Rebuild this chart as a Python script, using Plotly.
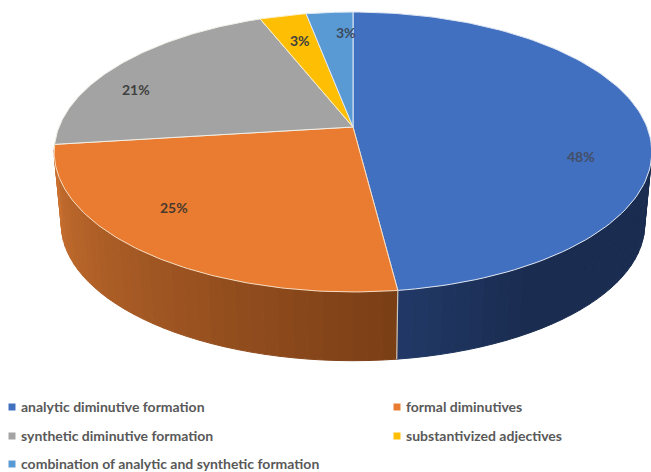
import numpy as np
import plotly.graph_objects as go

# Slice data, clockwise from twelve o'clock
categories = [
    "analytic diminutive formation",
    "formal diminutives",
    "synthetic diminutive formation",
    "substantivized adjectives",
    "combination of analytic and synthetic formation",
]
values = [48, 25, 21, 3, 3]
colors = ["#4270c0", "#e97c30", "#a3a3a3", "#fdbe03", "#5a9ad4"]
rim_lines = ["#dfe6f2", "#f7dcc0", "#f2efe8", "#fdf0c8", "#dce8f5"]
label_colors = ["#434e66", "#4a3a2e", "#404040", "#404040", "#3c4a5c"]

# Side-wall shading per visible slice: (angle where the ramp begins, first rgb, last rgb)
wall_shades = {
    0: (150.0, (26, 44, 80), (33, 57, 103)),
    1: (172.8, (122, 62, 22), (203, 113, 48)),
}

# Perspective of the disc
CX, TOP_Y, BASE_Y = 353, 127, 200
TOP_RX, TOP_RY = 294, 135.5
BASE_RX, BASE_RY = 287, 132
PERSP = 0.1786
WALL_FROM, WALL_TO = 100.0, 262.8


def project(deg, cy, rx, ry):
    t = np.radians(deg)
    sx, sy = np.sin(t), np.cos(t)
    w = 1 + PERSP * sy
    return CX + rx * sx / w, cy - ry * sy / w


def top_point(deg):
    return project(deg, TOP_Y, TOP_RX, TOP_RY)


def base_point(deg):
    return project(deg, BASE_Y, BASE_RX, BASE_RY)


edges = np.concatenate([[0], np.cumsum(values) / np.sum(values) * 360])
fig = go.Figure()

# Side wall: narrow strips with a shade that follows the angle
for i, (ramp_from, first, last) in wall_shades.items():
    a0 = max(edges[i], WALL_FROM)
    a1 = min(edges[i + 1], WALL_TO)
    cuts = np.linspace(a0, a1, int((a1 - a0) / 2.5) + 2)
    for d0, d1 in zip(cuts[:-1], cuts[1:]):
        f = max(0.0, ((d0 + d1) / 2 - ramp_from) / (edges[i + 1] - ramp_from))
        rgb = [round(p + (q - p) * f) for p, q in zip(first, last)]
        arc = np.linspace(d0, d1, 4)
        tx, ty = top_point(arc)
        bx, by = base_point(arc)
        color = "rgb({},{},{})".format(*rgb)
        fig.add_trace(go.Scatter(
            x=np.concatenate([tx, bx[::-1], tx[:1]]),
            y=np.concatenate([ty, by[::-1], ty[:1]]),
            mode="lines", fill="toself", fillcolor=color,
            line=dict(color=color, width=1), hoverinfo="skip", showlegend=False,
        ))

# Seam between the two visible wall colours
sx0, sy0 = top_point(edges[1])
sx1, sy1 = base_point(edges[1])
fig.add_trace(go.Scatter(
    x=[sx0, sx1], y=[sy0, sy1], mode="lines",
    line=dict(color="#c9c3ba", width=1.2), hoverinfo="skip", showlegend=False,
))

# Top face
for i, name in enumerate(categories):
    arc = np.linspace(edges[i], edges[i + 1], 120)
    px, py = top_point(arc)
    fig.add_trace(go.Scatter(
        x=np.concatenate([[CX], px, [CX]]),
        y=np.concatenate([[TOP_Y], py, [TOP_Y]]),
        mode="lines", fill="toself", fillcolor=colors[i],
        line=dict(color=rim_lines[i], width=1), name=name,
        hoverinfo="name", showlegend=False,
    ))

# Percentage labels
label_spots = [(581, 156), (174, 207), (136, 89), (300, 40), (346, 32)]
for v, tint, (lx, ly) in zip(values, label_colors, label_spots):
    fig.add_annotation(
        x=lx, y=ly, text=f"<b>{v}%</b>", showarrow=False,
        font=dict(family="Lato", size=14, color=tint),
    )

# Two-column key below the disc
key_spots = [(12, 407), (397, 407), (12, 436), (397, 436), (12, 464)]
for name, color, (kx, ky) in zip(categories, colors, key_spots):
    fig.add_trace(go.Scatter(
        x=[kx], y=[ky], mode="markers",
        marker=dict(symbol="square", size=7, color=color, line=dict(width=0)),
        hoverinfo="skip", showlegend=False,
    ))
    fig.add_annotation(
        x=kx + 7, y=ky - 1, text=f"<b>{name}</b>", showarrow=False,
        xanchor="left", yanchor="middle",
        font=dict(family="Lato", size=14, color="#595959"),
    )

fig.update_layout(
    width=651, height=472, autosize=False,
    margin=dict(l=0, r=0, t=0, b=0),
    paper_bgcolor="white", plot_bgcolor="white",
    xaxis=dict(range=[0, 651], visible=False, fixedrange=True),
    yaxis=dict(range=[472, 0], visible=False, fixedrange=True),
)

fig.write_html("out.html", config=dict(displayModeBar=False))
